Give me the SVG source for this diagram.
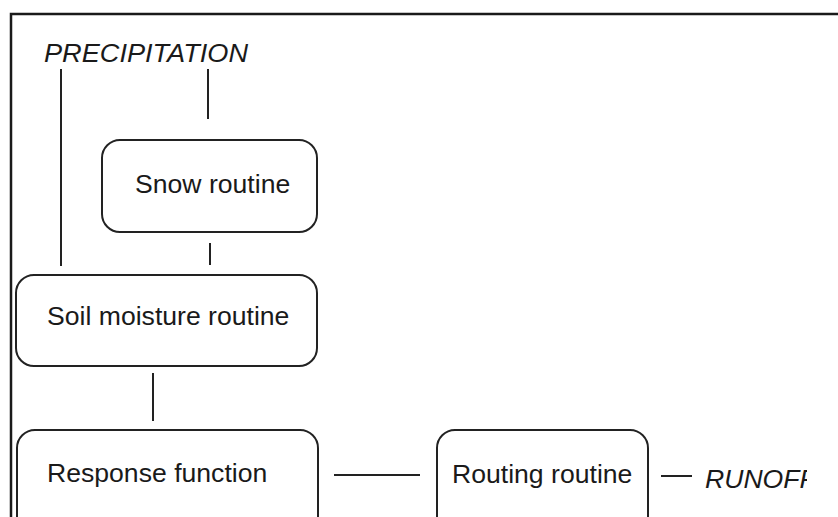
<svg xmlns="http://www.w3.org/2000/svg" width="838" height="517" viewBox="0 0 838 517">
<style>
.box{fill:#fff;stroke:#222;stroke-width:2}
.lbl{font-family:"Liberation Sans",Arial,sans-serif;font-size:26.6px;fill:#1a1a1a}
.it{font-style:italic}
.con line{stroke:#222;stroke-width:2}
</style>
<defs><clipPath id="cr"><rect x="0" y="0" width="807" height="517"/></clipPath></defs>
<rect x="0" y="0" width="838" height="517" fill="#fff"/>
<path d="M11 517 V14 H838" fill="none" stroke="#1a1a1a" stroke-width="2.5"/>
<text id="precip" class="lbl it" x="44" y="62" textLength="204" lengthAdjust="spacingAndGlyphs">PRECIPITATION</text>
<g id="snow"><rect class="box" x="102" y="140" width="215" height="92" rx="18"/><text class="lbl" x="135" y="193">Snow routine</text></g>
<g id="soil"><rect class="box" x="16" y="275" width="301" height="91" rx="18"/><text class="lbl" x="47" y="325">Soil moisture routine</text></g>
<g id="response"><rect class="box" x="17" y="430" width="301" height="110" rx="18"/><text class="lbl" x="47" y="482">Response function</text></g>
<g id="routing"><rect class="box" x="437" y="430" width="211" height="110" rx="18"/><text class="lbl" x="452" y="483">Routing routine</text></g>
<text id="runoff" class="lbl it" x="705" y="488" clip-path="url(#cr)">RUNOFF</text>
<g class="con">
<line x1="61" y1="69" x2="61" y2="266"/>
<line x1="208" y1="69" x2="208" y2="119"/>
<line x1="210" y1="243" x2="210" y2="265"/>
<line x1="153" y1="373" x2="153" y2="421"/>
<line x1="334" y1="475" x2="420" y2="475"/>
<line x1="661" y1="476" x2="692" y2="476"/>
</g>
</svg>
